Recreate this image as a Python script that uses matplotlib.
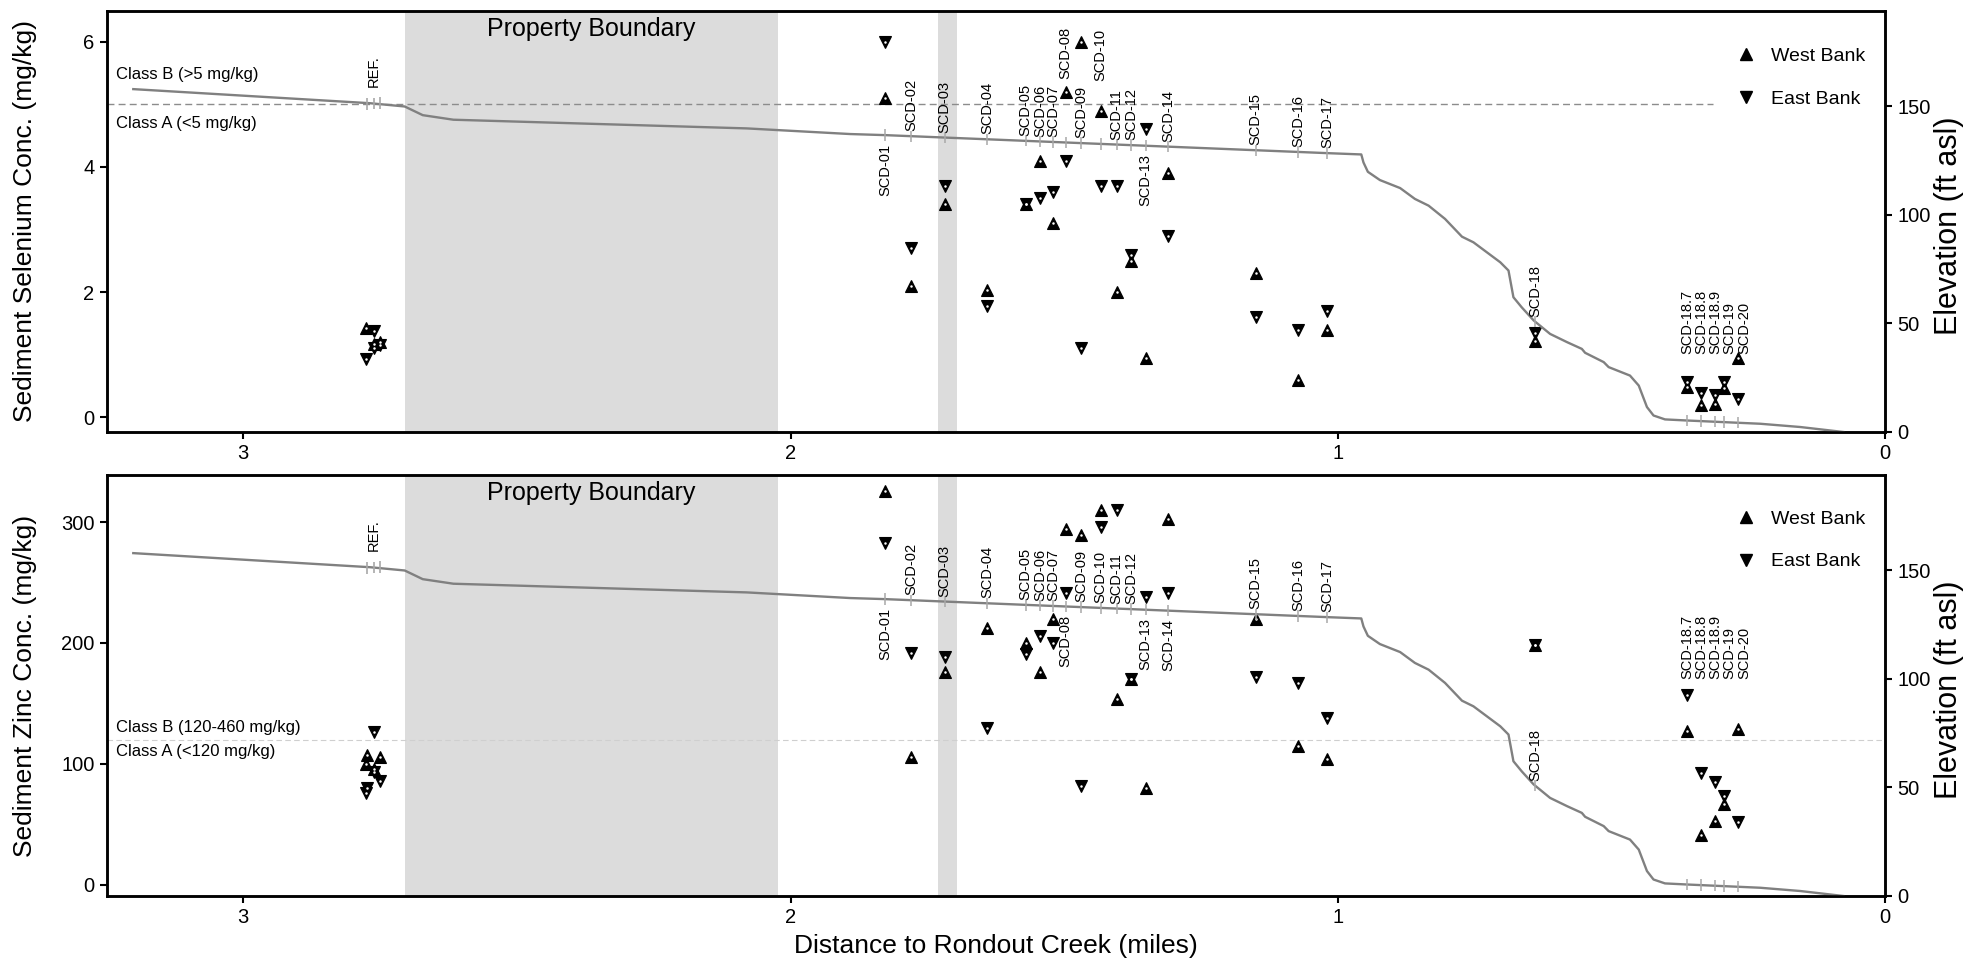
import numpy as np
import matplotlib.pyplot as plt
from matplotlib.lines import Line2D
from matplotlib.transforms import blended_transform_factory

plt.rcParams['font.family'] = ['Liberation Sans', 'DejaVu Sans']

# creek bed elevation profile (miles to Rondout Creek, ft asl)
profile_dist = [3.201, 2.768, 2.705, 2.672, 2.616, 2.080, 1.891, 1.827, 1.019, 0.957,
                0.953, 0.945, 0.923, 0.886, 0.859, 0.834, 0.804, 0.773, 0.752, 0.703,
                0.688, 0.679, 0.664, 0.642, 0.612, 0.581, 0.554, 0.548, 0.514, 0.505,
                0.466, 0.450, 0.435, 0.423, 0.402, 0.362, 0.228, 0.155, 0.076]
profile_elev = [158.0, 151.5, 150.0, 146.0, 143.9, 139.9, 137.3, 136.8, 128.5, 127.9,
                124.2, 119.9, 116.1, 112.4, 107.4, 104.3, 98.2, 90.0, 87.4, 78.2,
                74.4, 62.1, 57.5, 51.4, 45.2, 41.4, 38.3, 36.5, 32.2, 29.9,
                26.0, 21.4, 11.5, 7.6, 5.8, 5.3, 3.8, 2.3, 0.0]

stations = ["SCD-01", "SCD-02", "SCD-03", "SCD-04", "SCD-05", "SCD-06", "SCD-07",
            "SCD-08", "SCD-09", "SCD-10", "SCD-11", "SCD-12", "SCD-13", "SCD-14",
            "SCD-15", "SCD-16", "SCD-17", "SCD-18", "SCD-18.7", "SCD-18.8",
            "SCD-18.9", "SCD-19", "SCD-20"]
station_dist = [1.827, 1.780, 1.718, 1.641, 1.570, 1.544, 1.520, 1.497, 1.469, 1.433,
                1.404, 1.378, 1.351, 1.310, 1.150, 1.072, 1.019, 0.639, 0.362, 0.336,
                0.310, 0.295, 0.268]

# selenium (mg/kg)
se_west = [5.1, 2.1, 3.4, 2.03, 3.4, 4.1, 3.1, 5.2, 6.0, 4.9, 2.0, 2.5, 0.94, 3.9,
           2.3, 0.6, 1.4, 1.22, 0.48, 0.2, 0.22, 0.46, 0.95]
se_east = [6.0, 2.7, 3.7, 1.77, 3.4, 3.5, 3.6, 4.1, 1.1, 3.7, 3.7, 2.6, 4.6, 2.9,
           1.6, 1.4, 1.7, 1.35, 0.57, 0.38, 0.36, 0.57, 0.3]
# zinc (mg/kg)
zn_west = [326, 106, 176, 212, 200, 176, 220, 294, 289, 310, 154, 170, 80, 303,
           220, 115, 104, 198, 127, 41, 53, 67, 129]
zn_east = [283, 192, 188, 130, 191, 206, 200, 241, 82, 296, 310, 170, 238, 241,
           172, 167, 138, 198, 157, 92, 85, 73, 52]

# reference reach samples
ref_tick_x = [2.773, 2.762, 2.751]
ref_se_west_x = [2.775, 2.751, 2.762]
ref_se_west = [1.43, 1.21, 1.17]
ref_se_east_x = [2.762, 2.762, 2.775, 2.751]
ref_se_east = [1.38, 1.10, 0.93, 1.15]
ref_zn_west_x = [2.773, 2.751, 2.775, 2.762]
ref_zn_west = [107, 106, 100, 96]
ref_zn_east_x = [2.762, 2.762, 2.751, 2.773, 2.775]
ref_zn_east = [126, 93, 86, 80, 76]

boundary_bands = [(2.705, 2.023), (1.731, 1.696)]

# labels of the crowded downstream stations are spread a little
label_x = {"SCD-19": 0.284, "SCD-20": 0.257}
group = ["SCD-18.7", "SCD-18.8", "SCD-18.9", "SCD-19", "SCD-20"]

fig = plt.figure(figsize=(19.76, 9.64), dpi=100)
ax_se = fig.add_axes([0.05415, 0.55187, 0.8998, 0.43672])
ax_zn = fig.add_axes([0.05415, 0.07054, 0.8998, 0.43672])

xp = np.array(profile_dist)[::-1]
fp = np.array(profile_elev)[::-1]


def pts(ax, x, y, marker):
    ax.plot(x, y, ls='none', marker=marker, ms=8.6, color='black', mec='black', mew=0.8, zorder=4)
    ax.plot(x, y, ls='none', marker='o', ms=1.8, color='white', mew=0, zorder=5)


def panel(ax, west, east, rwx, rw, rex, re, ylim, yticks, ylabel, thr, thr_style,
          cls_b, cls_a, b_off, a_off, below, raised, group_elev, legend_y):
    for a, b in boundary_bands:
        ax.axvspan(a, b, color='#dcdcdc', lw=0, zorder=0)
    trans = blended_transform_factory(ax.transData, ax.transAxes)
    ax.text(np.mean(boundary_bands[0]), 0.985, "Property Boundary", transform=trans,
            ha='center', va='top', fontsize=18)

    ax.plot([3.249, thr_style['end']], [thr, thr], ls=(0, thr_style['dash']),
            color=thr_style['color'], lw=thr_style['lw'], zorder=1)
    ax.annotate(cls_b, (3.232, thr), xytext=(0, b_off), textcoords='offset points',
                ha='left', va='center', fontsize=12)
    ax.annotate(cls_a, (3.232, thr), xytext=(0, a_off), textcoords='offset points',
                ha='left', va='center', fontsize=12)

    pts(ax, station_dist, west, '^')
    pts(ax, station_dist, east, 'v')
    pts(ax, rwx, rw, '^')
    pts(ax, rex, re, 'v')

    ax.set_xlim(3.249, 0)
    ax.set_ylim(*ylim)
    ax.set_yticks(yticks)
    ax.set_xticks([3, 2, 1, 0])
    ax.set_xticklabels(['3', '2', '1', '0'])
    ax.set_ylabel(ylabel, fontsize=19)
    ax.yaxis.set_label_coords(-0.0394, 0.5)
    ax.tick_params(direction='out', length=5, width=1.5, labelsize=14.5, pad=4)
    for s in ax.spines.values():
        s.set_linewidth(1.8)

    handles = [Line2D([], [], ls='none', marker='^', ms=9, color='black'),
               Line2D([], [], ls='none', marker='v', ms=9, color='black')]
    ax.legend(handles, ['West Bank', 'East Bank'], loc='upper left',
              bbox_to_anchor=(0.9064, legend_y), frameon=False, fontsize=14,
              handlelength=1.0, handletextpad=0.8, labelspacing=1.3, borderpad=0.4)

    tw = ax.twinx()
    tw.plot(profile_dist, profile_elev, color='#808080', lw=1.7, zorder=2)
    tw.set_ylim(0, 194)
    tw.set_yticks([0, 50, 100, 150])
    tw.set_ylabel("Elevation (ft asl)", fontsize=22)
    tw.yaxis.set_label_coords(1.0276, 0.49)
    tw.tick_params(direction='out', length=5, width=1.5, labelsize=14.5, pad=4)
    for s in tw.spines.values():
        s.set_linewidth(1.8)

    # station markers and labels along the profile
    e_ref = np.interp(ref_tick_x[::-1], xp, fp)
    tw.vlines(ref_tick_x, e_ref - 2.6, e_ref + 2.6, color='#a8a8a8', lw=1.2)
    tw.annotate("REF.", (np.mean(ref_tick_x), e_ref.mean()), xytext=(0, 12),
                textcoords='offset points', rotation=90, ha='center', va='bottom',
                fontsize=10.5)
    for name, d in zip(stations, station_dist):
        e = np.interp(d, xp, fp)
        tw.vlines(d, e - 2.6, e + 2.6, color='#a8a8a8', lw=1.1)
        lx = label_x.get(name, d)
        if name in group_elev:
            tw.text(lx, group_elev[name], name, rotation=90, ha='center', va='bottom',
                    fontsize=10.5)
        elif name in below:
            tw.annotate(name, (lx, e), xytext=(0, -6), textcoords='offset points',
                        rotation=90, ha='center', va='top', fontsize=10.5)
        else:
            tw.annotate(name, (lx, e), xytext=(0, 3.5 + raised.get(name, 0)),
                        textcoords='offset points', rotation=90, ha='center',
                        va='bottom', fontsize=10.5)
    return tw


panel(ax_se, se_west, se_east, ref_se_west_x, ref_se_west, ref_se_east_x, ref_se_east,
      (-0.235, 6.49), [0, 2, 4, 6], "Sediment Selenium Conc. (mg/kg)", 5,
      {'end': 0.315, 'dash': (5, 3), 'color': '#8c8c8c', 'lw': 1.0},
      "Class B (>5 mg/kg)", "Class A (<5 mg/kg)", 21.5, -14,
      {"SCD-01", "SCD-13"}, {"SCD-08": 42, "SCD-10": 42},
      {n: 36 for n in group}, 0.9545)

panel(ax_zn, zn_west, zn_east, ref_zn_west_x, ref_zn_west, ref_zn_east_x, ref_zn_east,
      (-9.4, 339), [0, 100, 200, 300], "Sediment Zinc Conc. (mg/kg)", 120,
      {'end': 0.0, 'dash': (5, 3), 'color': '#cfcfcf', 'lw': 0.8},
      "Class B (120-460 mg/kg)", "Class A (<120 mg/kg)", 9, -8.7,
      {"SCD-01", "SCD-08", "SCD-13", "SCD-14"}, {},
      {n: 100 for n in group}, 0.9585)

ax_zn.set_xlabel("Distance to Rondout Creek (miles)", fontsize=19, labelpad=5)

fig.savefig("out.png", dpi=100)
